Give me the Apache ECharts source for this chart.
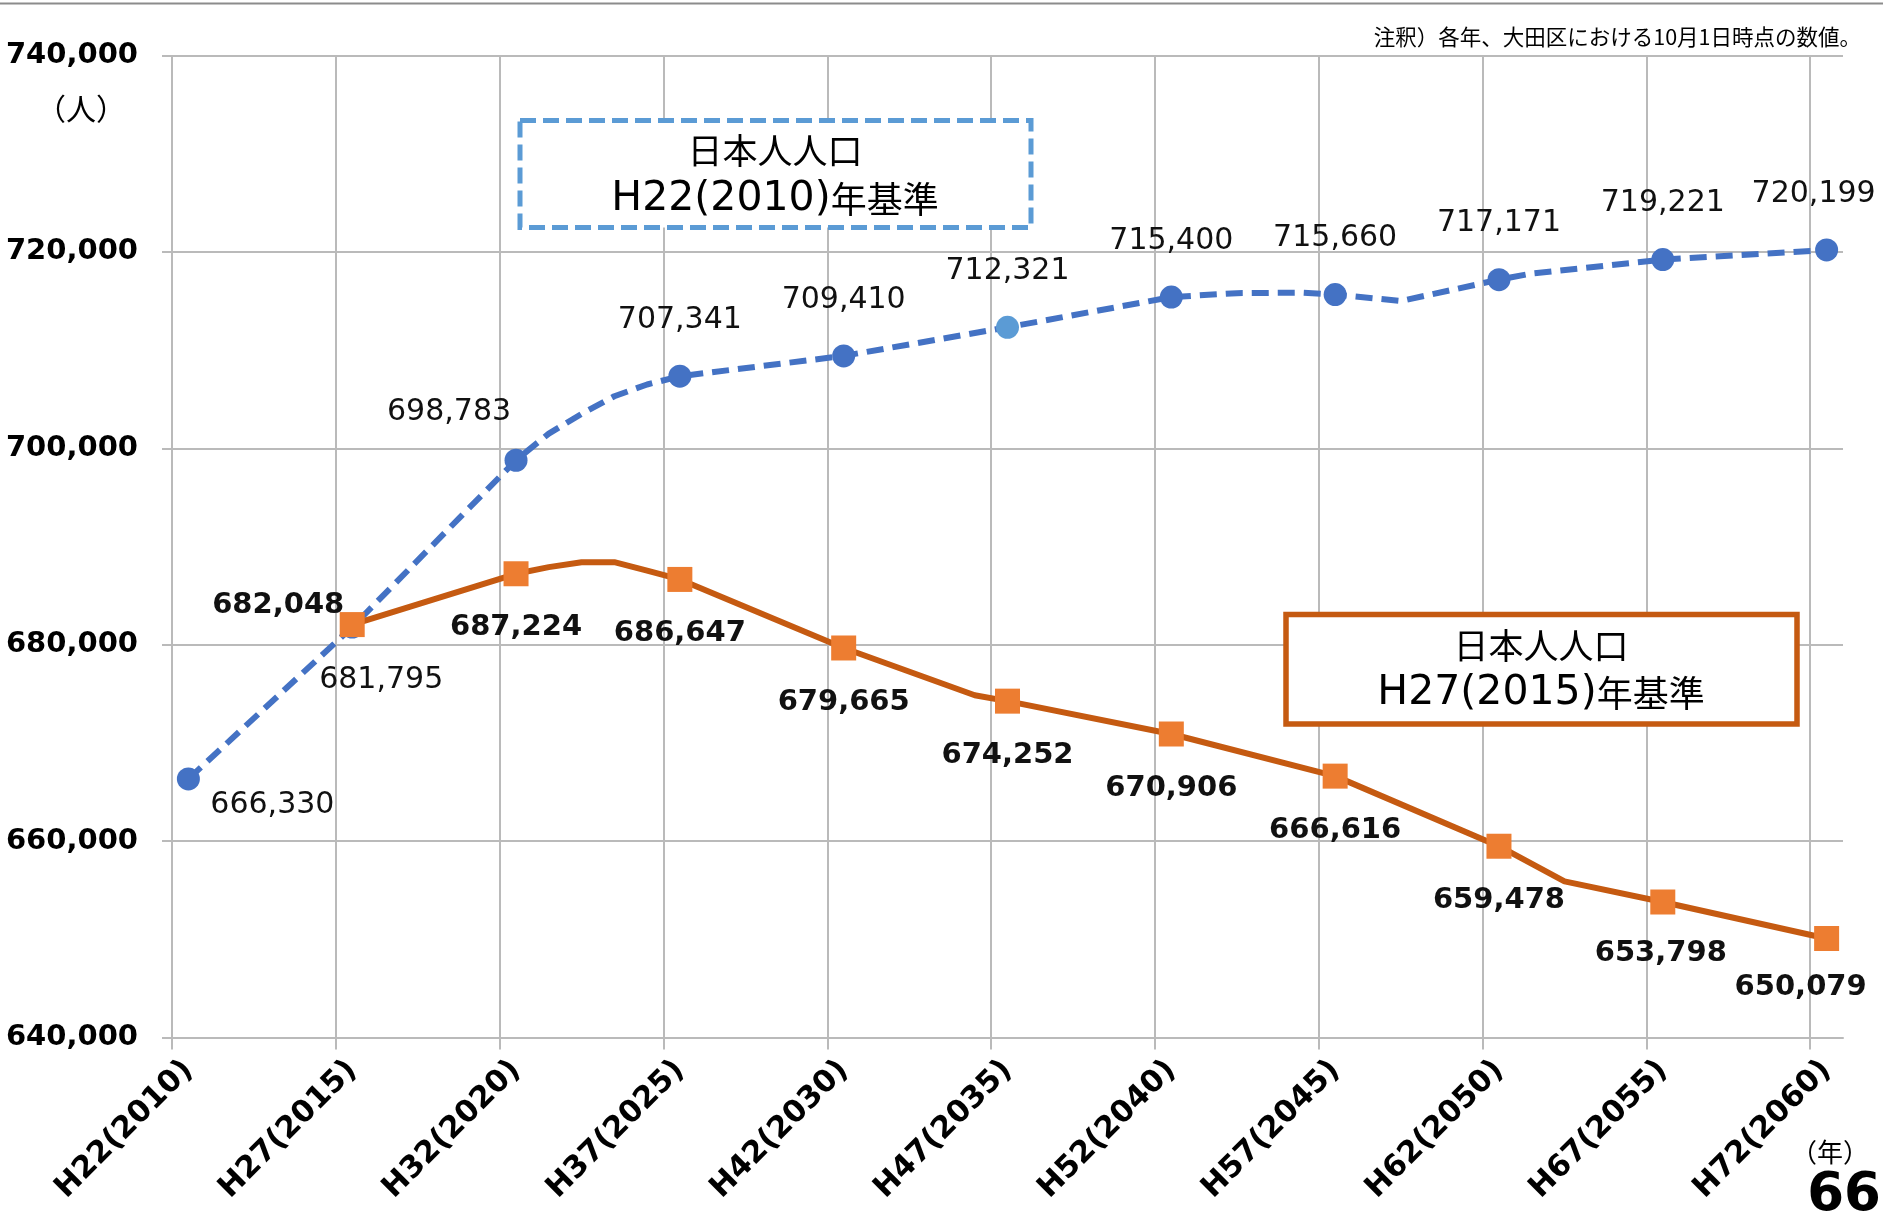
<!DOCTYPE html>
<html>
<head>
<meta charset="utf-8">
<script src="https://cdn.jsdelivr.net/npm/echarts@6/dist/echarts.min.js"></script>
<style>
  html, body { margin: 0; padding: 0; background: #fff; }
  #container { width: 1883px; height: 1225px; }
</style>
</head>
<body>
<div id="container"></div>
<script>
// 5年ごとの目盛り
var tickYears = [2010, 2015, 2020, 2025, 2030, 2035, 2040, 2045, 2050, 2055, 2060];
var tickLabels = ['H22(2010)', 'H27(2015)', 'H32(2020)', 'H37(2025)', 'H42(2030)', 'H47(2035)',
                  'H52(2040)', 'H57(2045)', 'H62(2050)', 'H67(2055)', 'H72(2060)'];

// 日本人人口 H22(2010)年基準
var h22Values = [666330, 681795, 698783, 707341, 709410, 712321, 715400, 715660, 717171, 719221, 720199];
// 線の途中の点（マーカーなし）
var h22MidYears = [2021, 2022, 2023, 2024, 2042, 2044, 2047, 2051];
var h22MidValues = [701500, 703500, 705300, 706500, 715800, 715850, 715000, 717800];

// 日本人人口 H27(2015)年基準
var h27Values = [null, 682048, 687224, 686647, 679665, 674252, 670906, 666616, 659478, 653798, 650079];
var h27MidYears = [2021, 2022, 2023, 2024, 2034, 2052];
var h27MidValues = [687900, 688400, 688400, 687550, 674850, 655900];

var yMin = 640000, yMax = 740000, yStep = 20000;

var gridColor = '#bababa';
var blue = '#4472C4';
var lightBlue = '#5B9BD5';
var orangeLine = '#C55A11';
var orangeMark = '#ED7D31';

// 1年ごとのカテゴリ（線の途中の点のため）
var categoryYears = [];
for (var yr = tickYears[0]; yr <= tickYears[tickYears.length - 1]; yr++) {
    categoryYears.push(String(yr));
}
var labelByYear = {};
tickYears.forEach(function (y, i) { labelByYear[String(y)] = tickLabels[i]; });

function fmt(v) {
    return String(v).replace(/\B(?=(\d{3})+(?!\d))/g, ',');
}

// ラベルの位置（目盛りの番号ごと）
var h22Offsets = { 0: [84, 26], 1: [29, 53], 2: [-67, -48], 10: [-13, -56] };
var h27Offsets = { 1: [-74, -19], 9: [-2, 51], 10: [-26, 49] };

function buildData(values, midYears, midValues, offsets, defaultOffset, extra) {
    var data = categoryYears.map(function () { return null; });
    tickYears.forEach(function (y, i) {
        if (values[i] == null) return;
        var item = { value: values[i], label: { offset: offsets[i] || defaultOffset } };
        if (extra && extra[i]) item.itemStyle = extra[i];
        data[y - tickYears[0]] = item;
    });
    midYears.forEach(function (y, i) {
        data[y - tickYears[0]] = { value: midValues[i], symbol: 'none', label: { show: false } };
    });
    return data;
}

var chart = echarts.init(document.getElementById('container'));

var option = {
    animation: false,
    backgroundColor: '#fff',
    grid: [
        { left: 172, right: 40, top: 55.5, bottom: 187.5 },
        // 縦の目盛り線（軸の下に少し出る）
        { left: 172, right: 40, top: 55.5, bottom: 175.5 }
    ],
    xAxis: [
        {
            type: 'category',
            data: categoryYears,
            boundaryGap: true,
            axisLine: { show: true, lineStyle: { color: gridColor, width: 2 } },
            axisTick: { show: false },
            axisLabel: {
                interval: 4,
                rotate: 45,
                margin: 28,
                formatter: function (v) { return labelByYear[v] || ''; },
                fontFamily: 'DejaVu Sans',
                fontWeight: 'bold',
                fontSize: 30.5,
                color: '#000'
            },
            splitLine: { show: false }
        },
        {
            type: 'category',
            gridIndex: 1,
            data: categoryYears,
            boundaryGap: true,
            axisLine: { show: false },
            axisTick: { show: false },
            axisLabel: { show: false },
            splitLine: { show: true, interval: 4, showMaxLine: false, lineStyle: { color: gridColor, width: 2 } }
        }
    ],
    yAxis: [
        {
            type: 'value',
            min: yMin,
            max: yMax,
            interval: yStep,
            axisLine: { show: false },
            axisTick: { show: true, length: 10, lineStyle: { color: gridColor, width: 2 } },
            axisLabel: {
                margin: 34,
                formatter: fmt,
                fontFamily: 'DejaVu Sans',
                fontWeight: 'bold',
                fontSize: 29,
                color: '#000',
                padding: [0, 0, 8, 0]
            },
            splitLine: { show: true, lineStyle: { color: gridColor, width: 2 } }
        },
        { type: 'value', gridIndex: 1, show: false }
    ],
    series: [
        {
            name: 'H22(2010)年基準',
            type: 'line',
            z: 3,
            connectNulls: true,
            symbol: 'circle',
            symbolSize: 23,
            lineStyle: { color: blue, width: 6, type: [17, 9] },
            itemStyle: { color: blue },
            label: {
                show: true,
                position: 'inside',
                formatter: function (p) { return fmt(p.value); },
                fontFamily: 'DejaVu Sans',
                fontSize: 30,
                color: '#111'
            },
            data: buildData(h22Values, h22MidYears, h22MidValues, h22Offsets, [0, -56],
                            { 5: { color: lightBlue } })
        },
        {
            name: 'H27(2015)年基準',
            type: 'line',
            z: 4,
            connectNulls: true,
            symbol: 'rect',
            symbolSize: 25,
            lineStyle: { color: orangeLine, width: 6 },
            itemStyle: { color: orangeMark },
            label: {
                show: true,
                position: 'inside',
                formatter: function (p) { return fmt(p.value); },
                fontFamily: 'DejaVu Sans',
                fontWeight: 'bold',
                fontSize: 29,
                color: '#111'
            },
            data: buildData(h27Values, h27MidYears, h27MidValues, h27Offsets, [0, 54])
        }
    ],
    graphic: {
        elements: [
            {
                type: 'line',
                shape: { x1: 0, y1: 3.5, x2: 1883, y2: 3.5 },
                style: { stroke: '#8c8c8c', lineWidth: 2 }
            },
            {
                type: 'text',
                x: 1861, y: 37,
                style: {
                    text: '注釈）各年、大田区における10月1日時点の数値。',
                    fontFamily: 'Noto Sans CJK JP', fontSize: 21.5, fill: '#000',
                    align: 'right', verticalAlign: 'middle'
                }
            },
            {
                type: 'text',
                x: 81, y: 109,
                style: {
                    text: '（人）',
                    fontFamily: 'Noto Sans CJK JP', fontSize: 30, fill: '#000',
                    align: 'center', verticalAlign: 'middle'
                }
            },
            {
                type: 'rect',
                z: 10,
                shape: { x: 520, y: 120.5, width: 511, height: 107 },
                style: { fill: '#fff', stroke: lightBlue, lineWidth: 5, lineDash: [16, 7] }
            },
            {
                type: 'text',
                z: 11,
                x: 775, y: 151,
                style: {
                    text: '日本人人口',
                    fontFamily: 'Noto Sans CJK JP', fontSize: 35, fill: '#000',
                    align: 'center', verticalAlign: 'middle'
                }
            },
            {
                type: 'text',
                z: 11,
                x: 775, y: 199,
                style: {
                    text: '{a|H22(2010)}{b|年基準}',
                    align: 'center', verticalAlign: 'middle',
                    rich: {
                        a: { fontFamily: 'DejaVu Sans', fontSize: 41, fill: '#000' },
                        b: { fontFamily: 'Noto Sans CJK JP', fontSize: 36, fill: '#000' }
                    }
                }
            },
            {
                type: 'rect',
                z: 10,
                shape: { x: 1286, y: 614.5, width: 511, height: 109.5 },
                style: { fill: '#fff', stroke: orangeLine, lineWidth: 5.5 }
            },
            {
                type: 'text',
                z: 11,
                x: 1541, y: 646,
                style: {
                    text: '日本人人口',
                    fontFamily: 'Noto Sans CJK JP', fontSize: 35, fill: '#000',
                    align: 'center', verticalAlign: 'middle'
                }
            },
            {
                type: 'text',
                z: 11,
                x: 1541, y: 693,
                style: {
                    text: '{a|H27(2015)}{b|年基準}',
                    align: 'center', verticalAlign: 'middle',
                    rich: {
                        a: { fontFamily: 'DejaVu Sans', fontSize: 41, fill: '#000' },
                        b: { fontFamily: 'Noto Sans CJK JP', fontSize: 36, fill: '#000' }
                    }
                }
            },
            {
                type: 'text',
                z: 11,
                x: 1830, y: 1152,
                style: {
                    text: '（年）',
                    fontFamily: 'Noto Sans CJK JP', fontSize: 26, fill: '#000',
                    align: 'center', verticalAlign: 'middle'
                }
            },
            {
                type: 'text',
                z: 11,
                x: 1881, y: 1196,
                style: {
                    text: '66',
                    fontFamily: 'DejaVu Sans', fontWeight: 'bold', fontSize: 53, fill: '#000',
                    align: 'right', verticalAlign: 'middle'
                }
            }
        ]
    }
};

chart.setOption(option);
</script>
</body>
</html>
